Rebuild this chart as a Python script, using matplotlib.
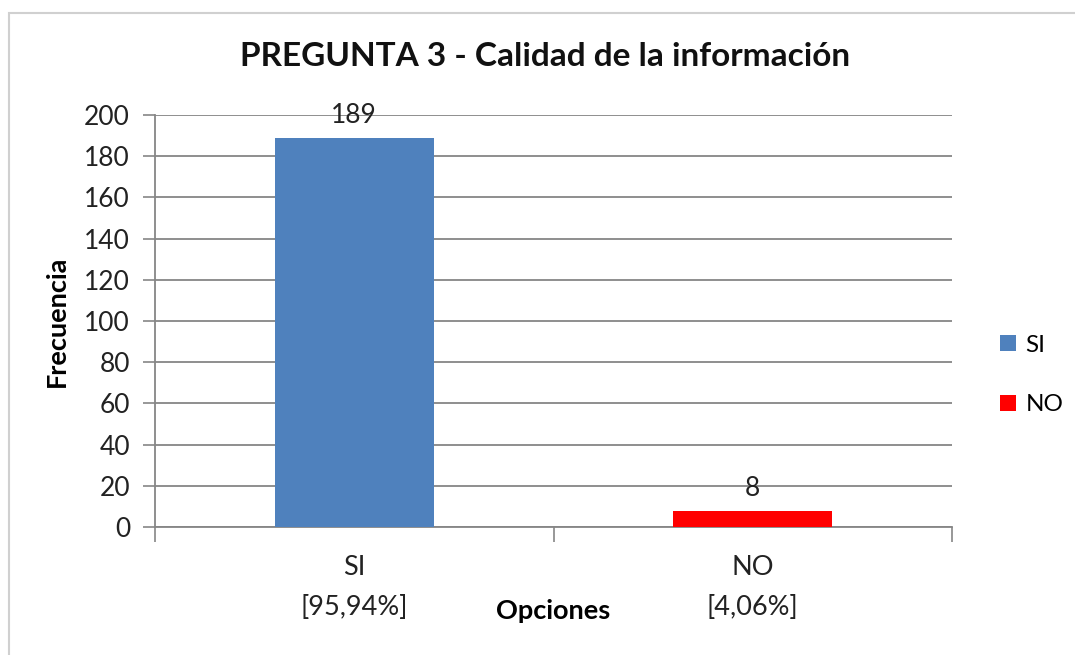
import matplotlib
matplotlib.use("Agg")
import matplotlib.pyplot as plt
from matplotlib.patches import Rectangle

# Datos de la encuesta
categorias = ["SI", "NO"]
frecuencias = [189, 8]
porcentajes = ["[95,94%]", "[4,06%]"]
colores = ["#4F81BD", "#FF0000"]
y_ticks = [0, 20, 40, 60, 80, 100, 120, 140, 160, 180, 200]

plt.rcParams["font.family"] = ["Lato", "DejaVu Sans"]

fig = plt.figure(figsize=(10.75, 6.55), dpi=100)
fig.patch.set_facecolor("white")

# Marco exterior del gráfico
fig.add_artist(Rectangle((9 / 1075, -0.1), 1.2, 1 - 13 / 655 + 0.1,
                         transform=fig.transFigure, fill=False,
                         edgecolor="#D0D0D0", linewidth=1.5))

ax = fig.add_axes([155 / 1075, 1 - 527 / 655, 797 / 1075, 412 / 655])

x = list(range(len(categorias)))
barras = ax.bar(x, frecuencias, width=0.4, color=colores, label=categorias, zorder=3)

for xi, v in zip(x, frecuencias):
    ax.annotate(str(v), (xi, v), xytext=(0, 16), textcoords="offset points",
                ha="center", va="center", fontsize=19, color="#222222")

ax.set_xlim(-0.5, 1.5)
ax.set_ylim(0, 200)
ax.set_yticks(y_ticks)
ax.tick_params(axis="y", length=9, width=1.2, color="#868686",
               labelsize=19, labelcolor="#222222", pad=9)
ax.yaxis.grid(True, color="#868686", linewidth=1.3, zorder=0)

# Etiquetas de categoría en el centro, marcas en los límites
ax.set_xticks([-0.5, 0.5, 1.5])
ax.set_xticklabels([])
ax.tick_params(axis="x", which="major", length=11, width=1.2, color="#868686")
ax.set_xticks(x, minor=True)
ax.set_xticklabels([f"{c}\n{p}" for c, p in zip(categorias, porcentajes)],
                   minor=True, linespacing=1.78)
ax.tick_params(axis="x", which="minor", length=0, labelsize=19.5,
               labelcolor="#222222", pad=20)

for s in ["top", "right"]:
    ax.spines[s].set_visible(False)
for s in ["left", "bottom"]:
    ax.spines[s].set_color("#868686")
    ax.spines[s].set_linewidth(1.3)

ax.set_xlabel("Opciones", fontsize=19.5, fontweight="bold", labelpad=0)
ax.xaxis.label.set_verticalalignment("center")
ax.xaxis.set_label_coords(0.5, -(611 - 527) / 412)
ax.set_ylabel("Frecuencia", fontsize=19.5, fontweight="bold", va="center")
ax.yaxis.set_label_coords(-(155 - 57) / 797, 0.5)

fig.text(545 / 1075, 1 - 56 / 655, "PREGUNTA 3 - Calidad de la información",
         ha="center", va="center", fontsize=24, fontweight="bold", color="#111111")

ax.legend(handles=barras, labels=categorias, loc="center left",
          bbox_to_anchor=(1000 / 1075, 1 - 375 / 655), bbox_transform=fig.transFigure,
          frameon=False, fontsize=17.5, handlelength=0.65, handleheight=0.65,
          handletextpad=0.4, labelspacing=1.6, borderaxespad=0, borderpad=0)

fig.savefig("out.png", dpi=100, facecolor="white")
